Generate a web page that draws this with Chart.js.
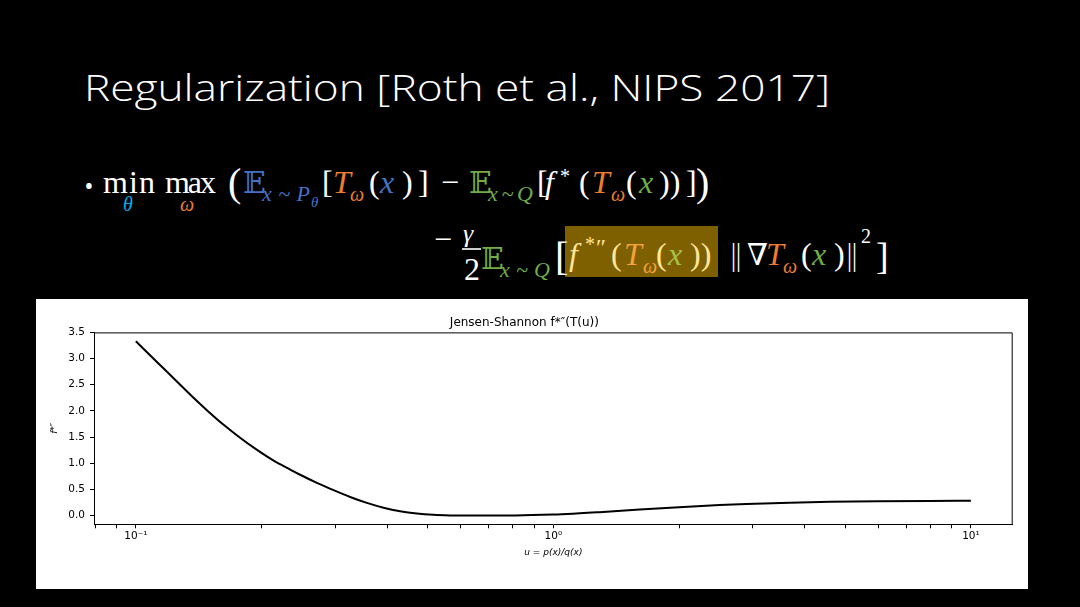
<!DOCTYPE html>
<html lang="en">
<head>
<meta charset="UTF-8">
<title>Regularization</title>
<script src="https://cdn.jsdelivr.net/npm/chart.js@4.4.1/dist/chart.umd.min.js"></script>
<style>
  html, body { margin: 0; padding: 0; background: #000; }
  #slide { position: relative; width: 1080px; height: 607px; background: #000; overflow: hidden; }
  #slide svg { position: absolute; left: 0; top: 0; }
  #plotBox { position: absolute; left: 36px; top: 299px; width: 992px; height: 290px; background: #fff; }
  .m { font-family: 'Liberation Serif', 'DejaVu Serif', serif; }
  .i { font-style: italic; }
</style>
</head>
<body>
<div id="slide">
  <svg width="1080" height="607">
    <text x="84" y="101" fill="#fff" font-family="'Open Sans', sans-serif" font-weight="300" font-size="37" textLength="746" lengthAdjust="spacingAndGlyphs">Regularization [Roth et al., NIPS 2017]</text>

    <!-- first line of the objective -->
    <text x="84" y="195" fill="#fff" font-family="'Open Sans', sans-serif" font-size="26">•</text>
    <text class="m" x="103" y="193" fill="#fff" font-size="32" textLength="52">min</text>
    <text class="m i" x="123" y="211" fill="#00b0f0" font-size="20">θ</text>
    <text class="m" x="165" y="193" fill="#fff" font-size="32" textLength="51">max</text>
    <text class="m i" x="180" y="211" fill="#ed7d31" font-size="20">ω</text>
    <text class="m" x="228" y="196" fill="#fff" font-size="40">(</text>
    <text class="m" x="243" y="193" fill="#4472c4" font-size="30">𝔼</text>
    <text class="m i" x="262" y="201" fill="#4472c4" font-size="22" textLength="48">x~P</text>
    <text class="m i" x="311" y="207" fill="#4472c4" font-size="15">θ</text>
    <text class="m" x="322" y="193" fill="#fff" font-size="32">[</text>
    <text class="m i" x="333" y="193" fill="#ed7d31" font-size="32">T</text>
    <text class="m i" x="350" y="201" fill="#ed7d31" font-size="20">ω</text>
    <text class="m" x="369" y="193" fill="#fff" font-size="32">(</text>
    <text class="m i" x="380" y="193" fill="#4472c4" font-size="32">x</text>
    <text class="m" x="402" y="193" fill="#fff" font-size="32">)</text>
    <text class="m" x="418" y="193" fill="#fff" font-size="32">]</text>
    <text class="m" x="441" y="193" fill="#fff" font-size="32">−</text>
    <text class="m" x="469" y="193" fill="#70ad47" font-size="30">𝔼</text>
    <text class="m i" x="488" y="201" fill="#70ad47" font-size="22" textLength="45">x~Q</text>
    <text class="m" x="537" y="193" fill="#fff" font-size="32">[</text>
    <text class="m i" x="545" y="193" fill="#fff" font-size="32">f</text>
    <text class="m" x="560" y="183" fill="#fff" font-size="20">*</text>
    <text class="m" x="579" y="193" fill="#fff" font-size="32">(</text>
    <text class="m i" x="592" y="193" fill="#ed7d31" font-size="32">T</text>
    <text class="m i" x="611" y="201" fill="#ed7d31" font-size="20">ω</text>
    <text class="m" x="626" y="193" fill="#fff" font-size="32">(</text>
    <text class="m i" x="639" y="193" fill="#70ad47" font-size="32">x</text>
    <text class="m" x="659" y="193" fill="#fff" font-size="32">))</text>
    <text class="m" x="686" y="193" fill="#fff" font-size="32">]</text>
    <text class="m" x="696" y="196" fill="#fff" font-size="40">)</text>

    <!-- second line of the objective -->
    <text class="m" x="434" y="250" fill="#fff" font-size="32">−</text>
    <text class="m i" x="463" y="242" fill="#fff" font-size="26">γ</text>
    <line x1="462" y1="249" x2="481" y2="249" stroke="#fff" stroke-width="1.6"/>
    <text class="m" x="464" y="280" fill="#fff" font-size="32">2</text>
    <text class="m" x="481" y="269" fill="#70ad47" font-size="30">𝔼</text>
    <text class="m i" x="500" y="277" fill="#70ad47" font-size="22" textLength="50">x~Q</text>
    <rect x="565" y="226" width="153" height="51" fill="#7f6000"/>
    <text class="m" x="555" y="270" fill="#fff" font-size="40">[</text>
    <text class="m i" x="569" y="265" fill="#ffe699" font-size="32">f</text>
    <text class="m" x="585" y="251" fill="#ffe699" font-size="20">*</text>
    <text class="m" x="596" y="255" fill="#ffe699" font-size="24">″</text>
    <text class="m" x="611" y="265" fill="#ffe699" font-size="32">(</text>
    <text class="m i" x="624" y="265" fill="#f4a23a" font-size="32">T</text>
    <text class="m i" x="643" y="273" fill="#f4a23a" font-size="20">ω</text>
    <text class="m" x="656" y="265" fill="#ffe699" font-size="32">(</text>
    <text class="m i" x="668" y="265" fill="#a9c244" font-size="32">x</text>
    <text class="m" x="690" y="265" fill="#ffe699" font-size="32">))</text>
    <text class="m" x="731" y="265" fill="#fff" font-size="32" textLength="10" lengthAdjust="spacingAndGlyphs">||</text>
    <text class="m" x="747" y="265" fill="#fff" font-size="30">∇</text>
    <text class="m i" x="766" y="265" fill="#ed7d31" font-size="32">T</text>
    <text class="m i" x="783" y="273" fill="#ed7d31" font-size="20">ω</text>
    <text class="m" x="801" y="265" fill="#fff" font-size="32">(</text>
    <text class="m i" x="812" y="265" fill="#70ad47" font-size="32">x</text>
    <text class="m" x="834" y="265" fill="#fff" font-size="32">)</text>
    <text class="m" x="847" y="265" fill="#fff" font-size="32" textLength="10" lengthAdjust="spacingAndGlyphs">||</text>
    <text class="m" x="861" y="243" fill="#fff" font-size="20">2</text>
    <text class="m" x="876" y="269" fill="#fff" font-size="38">]</text>
  </svg>
  <div id="plotBox"><canvas id="jsPlot"></canvas></div>
</div>
<script>
    // curve: u = p(x)/q(x)  ->  f*''(T(u))
    uValues = [0.1, 0.1125, 0.1233, 0.1351, 0.1482, 0.1623, 0.178, 0.1951, 0.2138, 0.2344, 0.2475, 0.2714, 0.2975, 0.326, 0.3575, 0.392, 0.4295, 0.471, 0.5161, 0.565, 0.68, 0.81, 0.89, 1.0, 1.08, 1.29, 1.61, 2.0, 2.5, 2.9, 3.68, 4.6, 6.0, 7.95, 10];
    fValues = [3.33, 2.93, 2.62, 2.31, 2.01, 1.735, 1.483, 1.255, 1.051, 0.88, 0.78, 0.625, 0.485, 0.355, 0.242, 0.15, 0.082, 0.038, 0.014, 0.004, 0.0, 0.004, 0.009, 0.02, 0.03, 0.065, 0.115, 0.16, 0.2, 0.22, 0.245, 0.262, 0.274, 0.281, 0.284];

    xMajorTicks = [0.1, 1, 10];
    xMajorLabels = ['10⁻¹', '10⁰', '10¹'];
    xMinorTicks = [0.08, 0.09, 0.2, 0.3, 0.4, 0.5, 0.6, 0.7, 0.8, 0.9, 2, 3, 4, 5, 6, 7, 8, 9];
    yTicks = [0, 0.5, 1, 1.5, 2, 2.5, 3, 3.5];

    chartTitle = 'Jensen-Shannon f*″(T(u))';
    xTitle = 'u = p(x)/q(x)';
    yTitle = 'f*″';

    Chart.defaults.font.family = "'DejaVu Sans', sans-serif";
    Chart.defaults.color = '#000';

    // matplotlib draws all four spines, Chart.js only the axis ones
    var frame = {
        id: 'frame',
        afterDraw: function (chart) {
            var a = chart.chartArea, ctx = chart.ctx;
            ctx.save();
            ctx.strokeStyle = '#000';
            ctx.lineWidth = 1;
            ctx.beginPath();
            ctx.moveTo(a.left, a.top + 0.5);
            ctx.lineTo(a.right - 0.5, a.top + 0.5);
            ctx.lineTo(a.right - 0.5, a.bottom);
            ctx.stroke();
            ctx.restore();
        }
    };

    function majorLabel(v) {
        for (var i = 0; i < xMajorTicks.length; i++) {
            if (Math.abs(v - xMajorTicks[i]) < xMajorTicks[i] * 1e-6) return xMajorLabels[i];
        }
        return '';
    }

    var ctx = document.getElementById('jsPlot').getContext('2d');
    var chart = new Chart(ctx, {
        type: 'line',
        data: {
            datasets: [{
                data: uValues.map(function (u, i) { return {x: u, y: fValues[i]}; }),
                borderColor: '#000',
                borderWidth: 2,
                pointRadius: 0,
                fill: false,
                cubicInterpolationMode: 'monotone'
            }]
        },
        options: {
            responsive: true,
            maintainAspectRatio: false,
            animation: false,
            layout: { padding: { left: 0, right: 15.3, top: 0, bottom: 0 } },
            plugins: {
                legend: { display: false },
                tooltip: { enabled: false },
                title: {
                    display: true,
                    text: chartTitle,
                    color: '#000',
                    font: { size: 12, weight: 'normal' },
                    padding: { top: 17, bottom: 2 }
                }
            },
            scales: {
                x: {
                    type: 'logarithmic',
                    min: 0.0794,
                    max: 12.59,
                    afterBuildTicks: function (scale) {
                        scale.ticks = xMinorTicks.concat(xMajorTicks).sort(function (a, b) { return a - b; })
                            .map(function (v) { return {value: v}; });
                    },
                    afterFit: function (scale) { scale.height = 64.7; },
                    ticks: {
                        autoSkip: false,
                        maxRotation: 0,
                        padding: 2,
                        font: { size: 10.5 },
                        callback: function (v) { return majorLabel(v); }
                    },
                    grid: { drawOnChartArea: false, drawTicks: true, tickLength: 4, tickColor: '#000' },
                    border: { display: true, color: '#000', width: 1 },
                    title: { display: true, text: xTitle, font: { size: 9, style: 'italic' }, padding: { top: 0, bottom: 30.6 } }
                },
                y: {
                    type: 'linear',
                    min: -0.1665,
                    max: 3.5,
                    afterBuildTicks: function (scale) {
                        scale.ticks = yTicks.map(function (v) { return {value: v}; });
                    },
                    afterFit: function (scale) { scale.width = 58; },
                    ticks: {
                        padding: 5,
                        font: { size: 10.5 },
                        callback: function (v) { return v.toFixed(1); }
                    },
                    grid: { drawOnChartArea: false, drawTicks: true, tickLength: 4, tickColor: '#000' },
                    border: { display: true, color: '#000', width: 1 },
                    title: { display: true, text: yTitle, font: { size: 9, style: 'italic' }, padding: { top: 13.6, bottom: 0 } }
                }
            }
        },
        plugins: [frame]
    });
</script>
</body>
</html>
